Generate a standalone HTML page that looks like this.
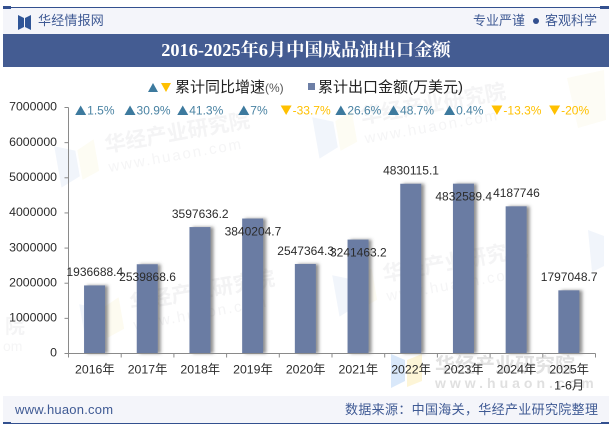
<!DOCTYPE html>
<html lang="zh-CN">
<head>
<meta charset="utf-8">
<title>2016-2025年6月中国成品油出口金额</title>
<style>
html,body{margin:0;padding:0;background:#fff;}
#page{position:relative;width:609px;height:424px;overflow:hidden;background:#fff;font-family:"Liberation Sans","Noto Sans CJK SC",sans-serif;}
#page>div{position:absolute;white-space:nowrap;}
#chart{position:absolute;left:0;top:0;}
</style>
</head>
<body>
<div id="page">
  <div style="left:3px;top:8px;width:606px;height:26px;background:#f4f5fa"></div>
  <div style="left:3px;top:7px;width:606px;height:1px;background:#33508f"></div>
  <div style="left:3px;top:6px;width:8px;height:3px;background:#33508f"></div>
  <div style="left:600px;top:6px;width:9px;height:3px;background:#33508f"></div>
  <svg style="position:absolute;left:18px;top:15px" width="14" height="15"><polygon points="0,0 6,3 6,12 0,15" fill="#2f5597"/><polygon points="13,0 7,3 7,12 13,15" fill="#2f5597"/></svg>
  <div style="left:38px;top:13px;font-size:13px;line-height:16px;color:#3f5a94;letter-spacing:.2px">华经情报网</div>
  <div style="left:473px;top:13px;font-size:13px;line-height:16px;color:#3f5a94">专业严谨</div>
  <div style="left:533px;top:18px;width:6px;height:6px;border-radius:50%;background:#33508f"></div>
  <div style="left:545px;top:13px;font-size:13px;line-height:16px;color:#3f5a94">客观科学</div>
  <div style="left:3px;top:34px;width:606px;height:33px;background:#445c92"></div>
  <div style="left:3px;top:34px;width:606px;height:33px;line-height:33px;text-align:center;color:#fff;font-size:18.3px;font-weight:bold;font-family:'Liberation Serif','Noto Serif CJK SC',serif">2016-2025年6月中国成品油出口金额</div>

  <svg id="chart" width="609" height="424" viewBox="0 0 609 424" xmlns="http://www.w3.org/2000/svg">
    <defs>
      <filter id="barShadow" x="-30%" y="-5%" width="170%" height="110%">
        <feDropShadow dx="3" dy="0" stdDeviation="1.6" flood-color="#555" flood-opacity="0.65"/>
      </filter>
    </defs>
    <g id="watermarks" font-family="'Liberation Sans','Noto Sans CJK SC',sans-serif" font-weight="bold">
      <g transform="translate(57,162) rotate(-10)">
        <polygon points="0,-16 20,-8 20,18 0,26" fill="#f1f5fb"/><polygon points="22,-8 40,-16 40,16 22,22" fill="#fdfcf3"/>
        <text x="50" y="-1" font-size="21" fill="#f4f4f5">华经产业研究院</text>
        <text x="50" y="19" font-size="15" fill="#f5f5f6" letter-spacing="2" font-weight="normal">www.huaon.com</text>
      </g>
      <g transform="translate(315,133) rotate(-10)">
        <polygon points="0,-16 20,-8 20,18 0,26" fill="#f1f5fb"/><polygon points="22,-8 40,-16 40,16 22,22" fill="#fdfcf3"/>
        <text x="48" y="-1" font-size="21" fill="#f4f4f5">华经产业研究院</text>
        <text x="48" y="19" font-size="15" fill="#f5f5f6" letter-spacing="2" font-weight="normal">www.huaon.com</text>
      </g>
      <g transform="translate(82,320) rotate(-10)">
        <polygon points="0,-16 20,-8 20,18 0,26" fill="#f1f5fb"/><polygon points="22,-8 40,-16 40,16 22,22" fill="#fdfbf0"/>
        <text x="50" y="-1" font-size="21" fill="#f3f3f4">华经产业研究院</text>
        <text x="50" y="19" font-size="15" fill="#f4f4f5" letter-spacing="2" font-weight="normal">www.huaon.com</text>
      </g>
      <g transform="translate(335,291) rotate(-10)">
        <polygon points="0,-16 20,-8 20,18 0,26" fill="#f1f5fb"/><polygon points="22,-8 40,-16 40,16 22,22" fill="#fdfcf3"/>
        <text x="50" y="-1" font-size="21" fill="#f4f4f5">华经产业研究院</text>
        <text x="50" y="19" font-size="15" fill="#f5f5f6" letter-spacing="2" font-weight="normal">www.huaon.com</text>
      </g>
      <g>
        <polygon points="391,354 405,360 405,381 391,388" fill="#d9e8fa"/><polygon points="407,360 422,354 422,381 407,387" fill="#fdf5d7"/>
        <text x="435" y="372" font-size="20" fill="#e2e2e2">华经产业研究院</text>
        <text x="435" y="388" font-size="14" fill="#e0e0e0" letter-spacing="4">www.huaon.com</text>
      </g>
      <g>
        <text x="5" y="333" font-size="20" fill="#f4f4f5">院</text>
        <text x="3" y="351" font-size="14" fill="#f5f5f6" font-weight="normal">om</text>
      </g>
      <polygon points="588,230 604,236 604,266 592,272" fill="#f1f5fb"/>
      <polygon points="567,78 604,70 606,120 578,128" fill="#fdfcf5"/>
    </g>
    <g id="legend" font-family="'Liberation Sans','Noto Sans CJK SC',sans-serif">
      <polygon points="153,83 158,92 148,92" fill="#3d7a9e"/>
      <polygon points="161,83 171,83 166,92" fill="#ffc000"/>
      <text x="175" y="92" font-size="15" fill="#222">累计同比增速<tspan font-size="12" fill="#555">(%)</tspan></text>
      <rect x="308" y="83" width="7" height="7" fill="#6d7fa6"/>
      <text x="318" y="92" font-size="15" fill="#222">累计出口金额(万美元)</text>
    </g>
    <g id="bars"></g>
    <g id="axes"></g>
    <g id="growth"></g>
    <g id="values"></g>
  </svg>

  <div style="left:3px;top:396px;width:606px;height:27px;background:#f4f5fa"></div>
  <div style="left:3px;top:423px;width:606px;height:1px;background:#33508f"></div>
  <div style="left:3px;top:422px;width:8px;height:2px;background:#33508f"></div>
  <div style="left:601px;top:422px;width:8px;height:2px;background:#33508f"></div>
  <div style="left:15px;top:402px;font-size:13px;line-height:16px;color:#3f5a94;letter-spacing:.22px">www.huaon.com</div>
  <div style="left:345px;top:402px;font-size:13px;line-height:16px;color:#3f5a94;letter-spacing:.33px">数据来源：中国海关，华经产业研究院整理</div>
</div>

<script>
var categories = ['2016年', '2017年', '2018年', '2019年', '2020年', '2021年', '2022年', '2023年', '2024年', '2025年|1-6月'];
var exportValues = [1936688.4, 2539868.6, 3597636.2, 3840204.7, 2547364.3, 3241463.2, 4830115.1, 4832589.4, 4187746, 1797048.7];
var growthRates = [1.5, 30.9, 41.3, 7, -33.7, 26.6, 48.7, 0.4, -13.3, -20];
var yTickValues = [0, 1000000, 2000000, 3000000, 4000000, 5000000, 6000000, 7000000];
var labelSides = ['above', 'below', 'above', 'below', 'above', 'below', 'above', 'below', 'above', 'above'];

var NS = 'http://www.w3.org/2000/svg';
var plot = { left: 68.5, right: 595.5, top: 107.5, bottom: 353.5 };
var yMax = 7000000;
var BAR_W = 21;
var FONT = '"Liberation Sans","Noto Sans CJK SC",sans-serif';

function xBand(i) {
  return plot.left + (plot.right - plot.left) * i / categories.length;
}
function xCenter(i) {
  return xBand(i + 0.5);
}
function yScale(v) {
  return plot.bottom - (plot.bottom - plot.top) * v / yMax;
}
function make(tag, attrs, parent, text) {
  var el = document.createElementNS(NS, tag);
  for (var k in attrs) el.setAttribute(k, attrs[k]);
  if (text !== undefined) el.textContent = text;
  parent.appendChild(el);
  return el;
}

var barsG = document.getElementById('bars');
var axesG = document.getElementById('axes');
var growthG = document.getElementById('growth');
var valuesG = document.getElementById('values');

exportValues.forEach(function (v, i) {
  var bar = make('rect', {
    x: xCenter(i) - BAR_W / 2 - 0.3, y: yScale(v), width: BAR_W, height: plot.bottom - yScale(v),
    fill: '#6a7ca3', filter: 'url(#barShadow)'
  }, barsG);
  
  
});

var yAxis = make('line', { x1: plot.left, x2: plot.left, y1: plot.top, y2: plot.bottom, stroke: '#8a8a8a', 'stroke-width': 1 }, axesG);


var xAxis = make('line', { x1: plot.left, x2: plot.right, y1: plot.bottom, y2: plot.bottom, stroke: '#8a8a8a', 'stroke-width': 1 }, axesG);



yTickValues.forEach(function (t) {
  var y = yScale(t);
  var tick = make('line', { x1: plot.left - 4, x2: plot.left, y1: y, y2: y, stroke: '#8a8a8a', 'stroke-width': 1 }, axesG);
  
  
  var label = make('text', {
    x: 57, y: y + 3.2, 'text-anchor': 'end', 'font-size': 12.3, fill: '#2b2b2b', 'font-family': FONT
  }, axesG, String(t));
  
  
});

for (var b = 0; b <= categories.length; b++) {
  var xTick = make('line', { x1: xBand(b), x2: xBand(b), y1: plot.bottom, y2: plot.bottom + 4, stroke: '#8a8a8a', 'stroke-width': 1 }, axesG);
  
  
}

categories.forEach(function (c, i) {
  c.split('|').forEach(function (line, n) {
    var label = make('text', {
      x: xCenter(i), y: 373.5 + n * 16, 'text-anchor': 'middle', 'font-size': 12.3, fill: '#2b2b2b', 'font-family': FONT
    }, axesG, line);
    
    
  });
});

growthRates.forEach(function (g, i) {
  var up = g >= 0;
  var color = up ? '#3d7a9e' : '#ffc000';
  var label = make('text', {
    y: 114.5, 'font-size': 12, fill: up ? '#4a83a3' : '#ffc000', 'font-family': FONT
  }, growthG, g + '%');
  
  
  var w = label.getComputedTextLength();
  var x0 = xCenter(i) - (w + 12) / 2;
  label.setAttribute('x', x0 + 12);
  var pts = up
    ? [[x0 + 5.5, 105.5], [x0 + 11, 115], [x0, 115]]
    : [[x0, 105.5], [x0 + 11, 105.5], [x0 + 5.5, 115]];
  var icon = make('polygon', { points: pts.map(function (p) { return p.join(','); }).join(' '), fill: color }, growthG);
  
  
});

exportValues.forEach(function (v, i) {
  var offset = labelSides[i] === 'above' ? -9.2 : 17;
  var label = make('text', {
    x: xCenter(i), y: yScale(v) + offset, 'text-anchor': 'middle', 'font-size': 12, fill: '#2b2b2b', 'font-family': FONT
  }, valuesG, String(v));
  
  
});
</script>
</body>
</html>
